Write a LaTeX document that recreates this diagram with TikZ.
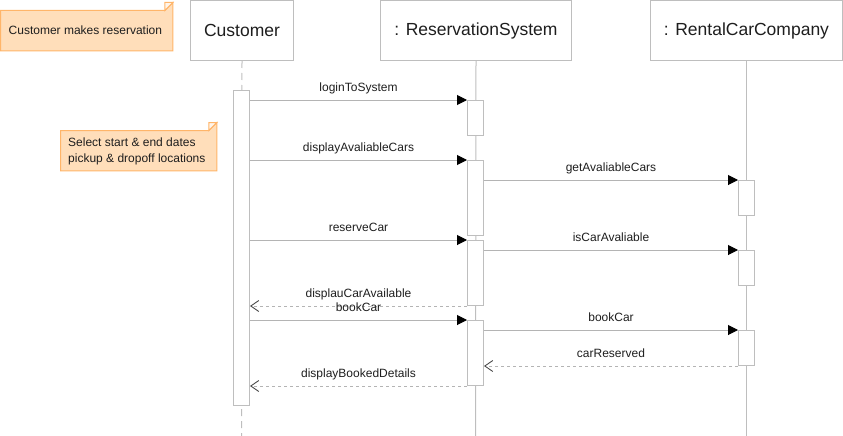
\documentclass[tikz,border=0pt]{standalone}
\usepackage{fontspec}
\setmainfont{Liberation Sans}
\usetikzlibrary{arrows.meta,calc}
\definecolor{boxgray}{RGB}{190,190,190}
\definecolor{linegray}{RGB}{180,180,180}
\definecolor{notefill}{RGB}{255,222,186}
\definecolor{notedraw}{RGB}{255,181,105}
\definecolor{txt}{RGB}{30,30,30}
\tikzset{
  head/.style={draw=boxgray, line width=1pt, fill=white, inner sep=0pt, anchor=north west,
    font=\fontsize{17.5}{20}\selectfont, text=txt},
  lifeline/.style={draw=boxgray, line width=1pt},
  lifedash/.style={draw=boxgray, line width=1pt, dash pattern=on 7pt off 5pt},
  act/.style={draw=boxgray, line width=1pt, fill=white, minimum width=16pt, inner sep=0pt, anchor=north},
  msg/.style={draw=linegray, line width=1pt, -{Triangle[length=10pt,width=10pt,color=black]}},
  ret/.style={draw=linegray, line width=1pt, dash pattern=on 3pt off 3pt,
    -{Straight Barb[length=8pt,width=11pt,line width=0.9pt,color=txt!80!white]}},
  lbl/.style={font=\fontsize{12}{14}\selectfont, text=txt, anchor=base, inner sep=0pt},
  notebox/.style={inner sep=0pt, anchor=north west},
  noteshape/.style={draw=notedraw, fill=notefill, line width=1pt},
  notefold/.style={draw=notedraw, fill=white!70!notefill, line width=1pt},
  notetext/.style={font=\fontsize{12}{16}\selectfont, text=txt, align=left, anchor=west, inner sep=0pt},
}
\begin{document}
\begin{tikzpicture}[x=1pt,y=-1pt]
\useasboundingbox (0,0) rectangle (843,436);
% heads
\node[head, minimum width=103pt, minimum height=59.5pt] (cust) at (190,0.5) {Customer};
\node[head, minimum width=191pt, minimum height=59.5pt] (rs) at (380,0.5) {: ReservationSystem};
\node[head, minimum width=192pt, minimum height=59.5pt] (rc) at (650,0.5) {: RentalCarCompany};
% lifeline ends
\coordinate (custend) at (241.5,436);
\coordinate (rsend) at (475.5,436);
\coordinate (rcend) at (746.5,436);
\draw[lifedash] (cust.south) -- (custend);
\draw[lifeline] (rs.south) -- (rsend);
\draw[lifeline] (rc.south) -- (rcend);
% activations
\node[act, minimum height=315pt] (cact) at (241.5,90) {};
\node[act, minimum height=35pt] (rs1) at (475.5,100) {};
\node[act, minimum height=75pt] (rs2) at (475.5,160) {};
\node[act, minimum height=65pt] (rs3) at (475.5,240) {};
\node[act, minimum height=65pt] (rs4) at (475.5,320) {};
\node[act, minimum height=35pt] (rc1) at (746.5,180) {};
\node[act, minimum height=35pt] (rc2) at (746.5,250) {};
\node[act, minimum height=35pt] (rc3) at (746.5,330) {};
% messages
\draw[msg] (cact.east |- rs1.north) -- node[lbl, yshift=9pt] {loginToSystem} (rs1.north west);
\draw[msg] (cact.east |- rs2.north) -- node[lbl, yshift=9pt] {displayAvaliableCars} (rs2.north west);
\draw[msg] (rs2.east |- rc1.north) -- node[lbl, yshift=9pt] {getAvaliableCars} (rc1.north west);
\draw[msg] (cact.east |- rs3.north) -- node[lbl, yshift=9pt] {reserveCar} (rs3.north west);
\draw[msg] (rs3.east |- rc2.north) -- node[lbl, yshift=9pt] {isCarAvaliable} (rc2.north west);
\draw[ret] (rs3.south west) -- node[lbl, yshift=9pt] {displauCarAvailable} (cact.east |- rs3.south);
\draw[msg] (cact.east |- rs4.north) -- node[lbl, yshift=8.5pt] {bookCar} (rs4.north west);
\draw[msg] (rs4.east |- rc3.north) -- node[lbl, yshift=8.5pt] {bookCar} (rc3.north west);
\draw[ret] (rc3.south west) -- node[lbl, yshift=9pt] {carReserved} (rs4.east |- rc3.south);
\draw[ret] (rs4.south west) -- node[lbl, yshift=9pt] {displayBookedDetails} (cact.east |- rs4.south);
% notes
\node[notebox, minimum width=172pt, minimum height=40pt] (n1) at (0.5,10.5) {};
\draw[noteshape] (n1.south west) -- (n1.north west) -- ([xshift=-8pt]n1.north east) -- ([yshift=8pt]n1.north east) -- (n1.south east) -- cycle;
\draw[notefold] ([xshift=-8pt]n1.north east) -- ([xshift=-8pt,yshift=8pt]n1.north east) -- ([yshift=8pt]n1.north east) -- cycle;
\node[notetext] (t1) at ([xshift=8pt]n1.west) {Customer makes reservation};
\node[notebox, minimum width=156pt, minimum height=40pt] (n2) at (60.5,130.5) {};
\draw[noteshape] (n2.south west) -- (n2.north west) -- ([xshift=-8pt]n2.north east) -- ([yshift=8pt]n2.north east) -- (n2.south east) -- cycle;
\draw[notefold] ([xshift=-8pt]n2.north east) -- ([xshift=-8pt,yshift=8pt]n2.north east) -- ([yshift=8pt]n2.north east) -- cycle;
\node[notetext] (t2) at ([xshift=7.5pt,yshift=-1pt]n2.west) {Select start \& end dates\\pickup \& dropoff locations};
\end{tikzpicture}
\end{document}
